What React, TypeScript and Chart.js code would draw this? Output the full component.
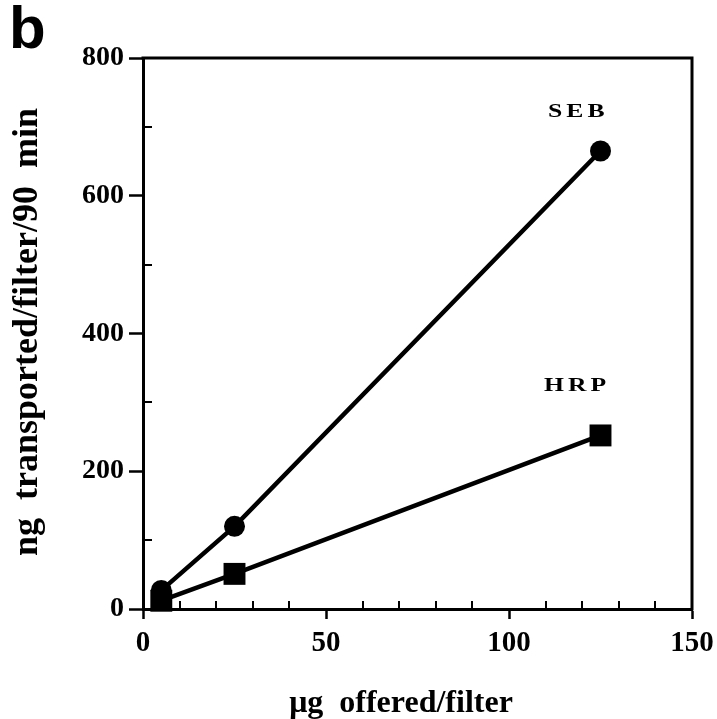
import React, { useEffect, useRef } from "react";
import { Chart, registerables } from "chart.js";

Chart.register(...registerables);

const offered = [5, 25, 125];
const sebValues = [27, 120, 665];
const hrpValues = [12, 51, 252];
const xTicks = [0, 50, 100, 150];
const yTicks = [0, 200, 400, 600, 800];
const xMinor = [10, 20, 30, 40, 60, 70, 80, 90, 110, 120, 130, 140];
const yMinor = [100, 300, 500, 700];
const seriesLabels = ["SEB", "HRP"];
const xTitle = "\u03bcg  offered/filter";
const yTitle = "ng  transported/filter/90  min";
const panelLetter = "b";

const SERIF = "'Liberation Serif', 'Times New Roman', serif";

const decorPlugin = {
  id: "decor",
  afterDraw(chart: any) {
    const { ctx, chartArea } = chart;
    const xs = chart.scales.x;
    const ys = chart.scales.y;
    ctx.save();
    ctx.strokeStyle = "#000";
    // top & right frame
    ctx.lineWidth = 3;
    ctx.beginPath();
    ctx.moveTo(chartArea.left - 1.5, chartArea.top);
    ctx.lineTo(chartArea.right, chartArea.top);
    ctx.lineTo(chartArea.right, chartArea.bottom + 1.5);
    ctx.stroke();
    // minor ticks
    ctx.lineWidth = 2;
    ctx.beginPath();
    xMinor.forEach((v) => {
      const px = Math.round(xs.getPixelForValue(v));
      ctx.moveTo(px, chartArea.bottom);
      ctx.lineTo(px, chartArea.bottom - 8);
    });
    yMinor.forEach((v) => {
      const py = Math.round(ys.getPixelForValue(v));
      ctx.moveTo(chartArea.left, py);
      ctx.lineTo(chartArea.left + 9, py);
    });
    ctx.stroke();

    ctx.fillStyle = "#000";
    // panel letter
    ctx.font = "bold 60px 'Liberation Sans', Arial, sans-serif";
    ctx.textAlign = "left";
    ctx.textBaseline = "alphabetic";
    ctx.fillText(panelLetter, 9, 48);

    // series labels (wide, slightly spaced)
    const drawWide = (text: string, x: number, y: number) => {
      ctx.save();
      ctx.translate(x, y);
      ctx.scale(1.35, 1);
      ctx.font = `bold 19px ${SERIF}`;
      (ctx as any).letterSpacing = "3px";
      ctx.textAlign = "left";
      ctx.fillText(text, 0, 0);
      ctx.restore();
    };
    drawWide(seriesLabels[0], 548, 117);
    drawWide(seriesLabels[1], 544, 391);

    // x title
    ctx.font = `bold 32px ${SERIF}`;
    ctx.textAlign = "center";
    ctx.fillText(xTitle, 401, 712);

    // y title
    ctx.save();
    ctx.translate(37, 332);
    ctx.rotate(-Math.PI / 2);
    ctx.font = `bold 36px ${SERIF}`;
    ctx.textAlign = "center";
    ctx.fillText(yTitle, 0, 0);
    ctx.restore();

    ctx.restore();
  },
};

export default function App() {
  const ref = useRef<HTMLCanvasElement>(null);
  useEffect(() => {
    if (!ref.current) return;
    const chart = new Chart(ref.current, {
      type: "scatter",
      data: {
        datasets: [
          {
            label: seriesLabels[0],
            data: offered.map((x, i) => ({ x, y: sebValues[i] })),
            showLine: true,
            borderColor: "#000",
            backgroundColor: "#000",
            borderWidth: 4.5,
            pointStyle: "circle",
            pointRadius: 10.5,
            pointBorderWidth: 0,
            clip: false as any,
          },
          {
            label: seriesLabels[1],
            data: offered.map((x, i) => ({ x, y: hrpValues[i] })),
            showLine: true,
            borderColor: "#000",
            backgroundColor: "#000",
            borderWidth: 4.5,
            pointStyle: "rect",
            pointRadius: 15.5,
            pointBorderWidth: 0,
            clip: false as any,
          },
        ],
      },
      options: {
        responsive: false,
        animation: false,
        devicePixelRatio: 1,
        layout: { padding: { top: 58, right: 25, left: 0, bottom: 0 } },
        plugins: {
          legend: { display: false },
          tooltip: { enabled: false },
        },
        scales: {
          x: {
            type: "linear",
            min: 0,
            max: 150,
            afterBuildTicks: (s: any) => {
              s.ticks = xTicks.map((v) => ({ value: v }));
            },
            afterFit: (s: any) => {
              s.height = 110;
              s.paddingLeft = 0;
              s.paddingRight = 0;
            },
            ticks: {
              color: "#000",
              font: { family: SERIF, size: 29, weight: "bold" },
              padding: 7,
              maxRotation: 0,
            },
            grid: {
              drawOnChartArea: false,
              drawTicks: true,
              tickLength: 10,
              tickWidth: 2.5,
              tickColor: "#000",
            },
            border: { display: true, color: "#000", width: 3 },
          },
          y: {
            type: "linear",
            min: 0,
            max: 800,
            afterBuildTicks: (s: any) => {
              s.ticks = yTicks.map((v) => ({ value: v }));
            },
            afterFit: (s: any) => {
              s.width = 143;
              s.paddingTop = 0;
              s.paddingBottom = 0;
            },
            ticks: {
              color: "#000",
              font: { family: SERIF, size: 28, weight: "bold" },
              padding: 5,
            },
            grid: {
              drawOnChartArea: false,
              drawTicks: true,
              tickLength: 14,
              tickWidth: 2.5,
              tickColor: "#000",
            },
            border: { display: true, color: "#000", width: 3 },
          },
        },
      },
      plugins: [decorPlugin],
    });
    return () => chart.destroy();
  }, []);
  return (
    <div style={{ position: "absolute", left: 0, top: 0, width: 717, height: 719, background: "#fff" }}>
      <canvas ref={ref} width={717} height={719} style={{ width: 717, height: 719, display: "block" }} />
    </div>
  );
}
